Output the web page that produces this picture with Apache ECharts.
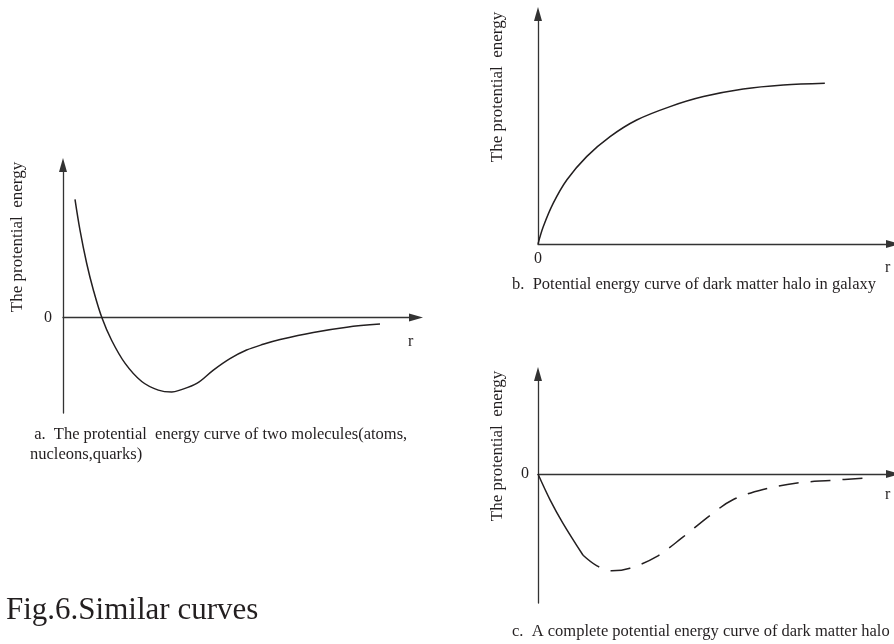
<!DOCTYPE html>
<html>
<head>
<meta charset="utf-8">
<title>Fig.6 Similar curves</title>
<script src="https://cdn.jsdelivr.net/npm/echarts@6/dist/echarts.min.js"></script>
<style>
  html, body { margin: 0; padding: 0; background: #fff; }
  #main { width: 894px; height: 644px; }
</style>
</head>
<body>
<div id="main"></div>
<script>
// a. two molecules, [r, E]
var curveA = [
  [0.34, 1.24], [0.48, 0.92], [0.67, 0.57], [0.86, 0.29], [1.10, 0], [1.38, -0.24],
  [1.76, -0.48], [2.23, -0.67], [2.70, -0.76], [3.08, -0.78], [3.31, -0.76], [3.79, -0.69],
  [4.26, -0.55], [4.73, -0.43], [5.20, -0.34], [5.67, -0.28], [6.15, -0.23], [7.09, -0.155],
  [8.04, -0.10], [8.98, -0.068]
]
// b. dark matter halo in galaxy
var curveB = [
  [0, 0], [0.15, 0.087], [0.43, 0.204], [0.81, 0.32], [1.37, 0.437], [2.03, 0.537],
  [2.78, 0.62], [3.72, 0.687], [4.66, 0.737], [5.78, 0.775], [6.91, 0.795], [8.08, 0.804]
]
// c. complete curve, known part (solid) + guessed part (dashed)
var curveCSolid = [[0, 0], [0.34, -0.20], [0.70, -0.38], [1.27, -0.63]]
var curveCDashed = [
  [1.27, -0.63], [1.65, -0.71], [2.08, -0.75], [2.59, -0.73], [3.34, -0.64], [4.08, -0.49],
  [4.85, -0.32], [5.49, -0.20], [6.34, -0.12], [7.30, -0.07], [8.23, -0.05], [9.26, -0.03]
]

var yName = 'The protential  energy'
var xName = 'r'
var captionA = ' a.  The protential  energy curve of two molecules(atoms,\nnucleons,quarks)'
var captionB = 'b.  Potential energy curve of dark matter halo in galaxy'
var captionC = 'c.  A complete potential energy curve of dark matter halo'
var figTitle = 'Fig.6.Similar curves'

var FONT = '"Liberation Serif", "Times New Roman", serif'
var INK = '#231f20'

var myChart = echarts.init(document.getElementById('main'))

function axisLine () {
  return {
    show: true,
    onZero: true,
    symbol: ['none', 'triangle'],
    symbolSize: [8, 14],
    lineStyle: { color: '#333', width: 1.3 }
  }
}

function zeroLabel (margin) {
  return {
    show: true,
    margin: margin,
    color: INK,
    fontFamily: FONT,
    fontSize: 16,
    formatter: function (v) { return v === 0 ? '0' : '' }
  }
}

function rName (pad) {
  return {
    name: xName,
    nameLocation: 'end',
    nameGap: -8,
    nameMoveOverlap: false,
    nameTextStyle: { color: INK, fontFamily: FONT, fontSize: 16, align: 'left', verticalAlign: 'top', padding: [pad, 0, 0, 0] }
  }
}

function xAxis (grid, label, pad) {
  return Object.assign({
    type: 'value',
    gridIndex: grid,
    min: 0,
    max: 10,
    interval: 5,
    axisLine: axisLine(),
    axisTick: { show: false },
    splitLine: { show: false },
    axisLabel: label || { show: false }
  }, rName(pad))
}

function yAxis (grid, min, max, label) {
  return {
    type: 'value',
    gridIndex: grid,
    min: min,
    max: max,
    interval: 1,
    axisLine: axisLine(),
    axisTick: { show: false },
    splitLine: { show: false },
    axisLabel: label || { show: false }
  }
}

function curve (data, idx, dashed) {
  return {
    type: 'line',
    xAxisIndex: idx,
    yAxisIndex: idx,
    data: data,
    smooth: 0.35,
    showSymbol: false,
    silent: true,
    lineStyle: { color: INK, width: 1.5, type: dashed ? [20, 12] : 'solid' }
  }
}

function caption (text, left, top, size) {
  return {
    text: text,
    left: left,
    top: top,
    padding: 0,
    textStyle: { color: INK, fontFamily: FONT, fontSize: size, fontWeight: 'normal', lineHeight: Math.round(size * 1.2) }
  }
}

function vName (x, y) {
  return {
    type: 'text',
    x: x,
    y: y,
    rotation: Math.PI / 2,
    silent: true,
    style: { text: yName, fill: INK, font: '17px ' + FONT, align: 'center', verticalAlign: 'middle' }
  }
}

var option = {
  backgroundColor: '#fff',
  animation: false,
  title: [
    caption(figTitle, 6, 592, 31),
    caption(captionA, 30, 425, 16.5),
    caption(captionB, 512, 275, 16.5),
    caption(captionC, 512, 622, 16.5)
  ],
  grid: [
    { left: 63, top: 165, width: 353, height: 248, outerBoundsMode: 'none' },
    { left: 538, top: 14, width: 355, height: 230, outerBoundsMode: 'none' },
    { left: 538, top: 374, width: 355, height: 229, outerBoundsMode: 'none' }
  ],
  xAxis: [
    xAxis(0, null, 16),
    xAxis(1, zeroLabel(7), 16),
    xAxis(2, null, 13)
  ],
  yAxis: [
    yAxis(0, -1, 1.6, zeroLabel(11)),
    yAxis(1, 0, 1.15),
    yAxis(2, -1, 0.775, zeroLabel(9))
  ],
  graphic: [
    vName(18, 237),
    vName(498, 87),
    vName(498, 446)
  ],
  series: [
    curve(curveA, 0),
    curve(curveB, 1),
    curve(curveCSolid, 2),
    curve(curveCDashed, 2, true)
  ]
}

myChart.setOption(option)
</script>
</body>
</html>
